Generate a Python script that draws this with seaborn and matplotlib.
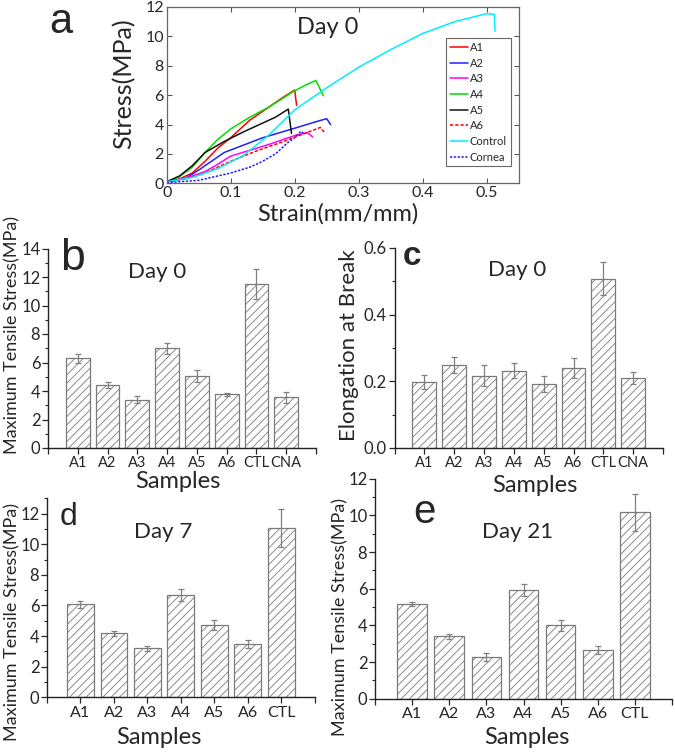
import numpy as np
import pandas as pd
import matplotlib
matplotlib.use('Agg')
import matplotlib.pyplot as plt
import seaborn as sns
from matplotlib.ticker import MultipleLocator

# ---------------- data ----------------
# panel a: stress-strain curves (Day 0)
strain_A1 = [0, 0.02, 0.04, 0.06, 0.08, 0.10, 0.13, 0.16, 0.18, 0.20, 0.203]
stress_A1 = [0.1, 0.3, 0.7, 1.5, 2.4, 3.1, 4.3, 5.2, 5.8, 6.35, 5.3]
strain_A2 = [0, 0.03, 0.05, 0.07, 0.09, 0.12, 0.15, 0.20, 0.23, 0.25, 0.256]
stress_A2 = [0.1, 0.35, 0.9, 1.5, 2.1, 2.6, 3.1, 3.75, 4.15, 4.4, 4.0]
strain_A3 = [0, 0.03, 0.06, 0.08, 0.10, 0.13, 0.16, 0.20, 0.22, 0.228]
stress_A3 = [0.1, 0.35, 0.8, 1.3, 1.85, 2.25, 2.65, 3.25, 3.45, 3.15]
strain_A4 = [0, 0.02, 0.04, 0.06, 0.08, 0.10, 0.13, 0.16, 0.20, 0.22, 0.233, 0.245]
stress_A4 = [0.1, 0.45, 1.1, 2.1, 3.0, 3.7, 4.5, 5.2, 6.3, 6.75, 7.0, 5.95]
strain_A5 = [0, 0.02, 0.04, 0.06, 0.09, 0.12, 0.15, 0.17, 0.19, 0.195]
stress_A5 = [0.1, 0.5, 1.2, 2.1, 2.85, 3.5, 4.1, 4.5, 5.05, 3.4]
strain_A6 = [0, 0.03, 0.06, 0.10, 0.14, 0.18, 0.21, 0.24, 0.246]
stress_A6 = [0.1, 0.3, 0.7, 1.5, 2.2, 2.8, 3.3, 3.8, 3.5]
strain_ctl = [0, 0.04, 0.08, 0.12, 0.16, 0.20, 0.25, 0.30, 0.35, 0.40, 0.45, 0.50, 0.512, 0.513]
stress_ctl = [0.1, 0.4, 1.0, 1.9, 3.3, 5.0, 6.5, 7.9, 9.1, 10.2, 11.0, 11.55, 11.5, 10.35]
strain_cor = [0, 0.05, 0.10, 0.13, 0.15, 0.17, 0.19, 0.20, 0.21, 0.215]
stress_cor = [0.05, 0.2, 0.7, 1.1, 1.5, 2.0, 2.8, 3.1, 3.55, 3.35]
curve_names = ['A1', 'A2', 'A3', 'A4', 'A5', 'A6', 'Control', 'Cornea']

# panel b: max tensile stress, day 0
cats8 = ['A1', 'A2', 'A3', 'A4', 'A5', 'A6', 'CTL', 'CNA']
stress_d0 = [6.3, 4.4, 3.4, 7.0, 5.05, 3.78, 11.48, 3.57]
stress_d0_err = [0.3, 0.2, 0.25, 0.4, 0.4, 0.1, 1.05, 0.38]
# panel c: elongation at break, day 0
elong_d0 = [0.198, 0.250, 0.217, 0.232, 0.192, 0.240, 0.508, 0.210]
elong_d0_err = [0.021, 0.024, 0.031, 0.022, 0.024, 0.031, 0.050, 0.018]
# panel d: day 7
cats7 = ['A1', 'A2', 'A3', 'A4', 'A5', 'A6', 'CTL']
stress_d7 = [6.09, 4.17, 3.19, 6.70, 4.71, 3.47, 11.06]
stress_d7_err = [0.23, 0.19, 0.17, 0.39, 0.34, 0.26, 1.24]
# panel e: day 21
stress_d21 = [5.18, 3.40, 2.27, 5.95, 4.00, 2.67, 10.16]
stress_d21_err = [0.11, 0.13, 0.20, 0.33, 0.29, 0.22, 0.99]

# ---------------- style ----------------
sns.set_theme(style='ticks')
plt.rcParams['font.family'] = ['Lato', 'DejaVu Sans']
plt.rcParams['hatch.linewidth'] = 0.6
plt.rcParams['axes.linewidth'] = 1.0

W, H = 675, 752
fig = plt.figure(figsize=(W / 100, H / 100), dpi=100)


def px(l, t, r, b):
    return [l / W, 1 - b / H, (r - l) / W, (b - t) / H]


def ftext(x, y, s, **kw):
    fig.text(x / W, 1 - y / H, s, **kw)


# ---------------- panel a ----------------
axa = fig.add_axes(px(166.7, 7, 519, 183.3))
curves = [
    (strain_A1, stress_A1, 'red', '-'),
    (strain_A2, stress_A2, '#2020ff', '-'),
    (strain_A3, stress_A3, '#ff00ff', '-'),
    (strain_A4, stress_A4, '#00dd00', '-'),
    (strain_A5, stress_A5, '#111111', '-'),
    (strain_A6, stress_A6, 'red', (0, (2.2, 1.2))),
    (strain_ctl, stress_ctl, '#00eeff', '-'),
    (strain_cor, stress_cor, '#2020ff', (0, (1.5, 1.0))),
]
for name, (xs, ys, col, ls) in zip(curve_names, curves):
    sns.lineplot(x=xs, y=ys, ax=axa, color=col, linestyle=ls, linewidth=1.1,
                 sort=False, estimator=None, label=name)
axa.set_xlim(0, 0.5505)
axa.set_ylim(0, 12)
axa.yaxis.set_major_locator(MultipleLocator(2))
axa.set_xticks([0, 0.1, 0.2, 0.3, 0.4, 0.5])
axa.set_xticklabels(['0', '0.1', '0.2', '0.3', '0.4', '0.5'])
axa.tick_params(direction='in', length=3.5, width=0.8, top=True, right=True,
                labelsize=11.5, color='#555555', pad=2)
for sp in axa.spines.values():
    sp.set_color('#666666')
    sp.set_linewidth(0.9)
axa.set_xlabel('')
axa.set_ylabel('')
leg = axa.legend(loc='upper right', bbox_to_anchor=(0.977, 0.824), borderaxespad=0,
                 frameon=True, fancybox=False, fontsize=8, handlelength=1.6,
                 handletextpad=0.2, labelspacing=0.42, borderpad=0.35)
leg.get_frame().set_edgecolor('#444444')
leg.get_frame().set_linewidth(0.8)
axa.text(0.252, 10.6, 'Day 0', fontsize=17, ha='center', va='center')
ftext(124, 84, 'Stress(MPa)', fontsize=18, rotation=90, ha='center', va='center')
ftext(338, 214, 'Strain(mm/mm)', fontsize=17, ha='center', va='center')


# ---------------- bar panels ----------------
def bar_panel(rect, cats, vals, errs, ylim, ymaj, ymin, xsize, yfmt=None):
    ax = fig.add_axes(rect)
    df = pd.DataFrame({'Samples': cats, 'val': vals})
    sns.barplot(data=df, x='Samples', y='val', ax=ax, color='white', saturation=1,
                edgecolor='#7a7a7a', linewidth=0.9, width=0.8, errorbar=None)
    for p in ax.patches:
        p.set_hatch('////')
    ax.errorbar(cats, vals, yerr=errs, fmt='none', ecolor='#808080',
                elinewidth=0.9, capsize=2.2, capthick=0.9)
    n = len(cats)
    ax.set_xlim(-1, n)
    ax.set_ylim(*ylim)
    ax.set_xticks(list(range(-1, n + 1)))
    ax.set_xticklabels([''] + cats + [''])
    ax.yaxis.set_major_locator(MultipleLocator(ymaj))
    ax.yaxis.set_minor_locator(MultipleLocator(ymin))
    if yfmt:
        ax.yaxis.set_major_formatter(yfmt)
    ax.tick_params(axis='y', which='major', direction='out', length=4, width=0.9,
                   labelsize=12, pad=1.5)
    ax.tick_params(axis='y', which='minor', direction='out', length=2.2, width=0.8)
    ax.tick_params(axis='x', which='major', direction='out', length=4, width=0.9,
                   labelsize=xsize, pad=2)
    sns.despine(ax=ax)
    for sp in ['left', 'bottom']:
        ax.spines[sp].set_color('#222222')
    ax.set_xlabel('')
    ax.set_ylabel('')
    return ax


axb = bar_panel(px(48, 248.5, 316, 448), cats8, stress_d0, stress_d0_err, (0, 14), 2, 1, 10.5)
axc = bar_panel(px(394.5, 248, 663, 448), cats8, elong_d0, elong_d0_err, (0, 0.6), 0.2, 0.1, 10.5,
                yfmt=matplotlib.ticker.FormatStrFormatter('%.1f'))
axd = bar_panel(px(47, 498.3, 314.6, 697.3), cats7, stress_d7, stress_d7_err, (0, 13), 2, 1, 11.5)
axd.set_yticks([0, 2, 4, 6, 8, 10, 12])
axe = bar_panel(px(375, 478.7, 672, 698.7), cats7, stress_d21, stress_d21_err, (0, 12), 2, 1, 11.5)

# titles / labels
ftext(157, 272, 'Day 0', fontsize=16, ha='center', va='center')
ftext(517, 270, 'Day 0', fontsize=16, ha='center', va='center')
ftext(163, 532, 'Day 7', fontsize=16, ha='center', va='center')
ftext(518, 532, 'Day 21', fontsize=16, ha='center', va='center')

for x, y in [(178, 482), (535, 485), (159, 737), (527, 737)]:
    ftext(x, y, 'Samples', fontsize=17, ha='center', va='center')

ftext(12, 335, 'Maximum Tensile Stress(MPa)', fontsize=13, rotation=90, ha='center', va='center')
ftext(349, 345, 'Elongation at Break', fontsize=16, rotation=90, ha='center', va='center')
ftext(12, 622, 'Maximum Tensile Stress(MPa)', fontsize=13, rotation=90, ha='center', va='center')
ftext(340, 617, 'Maximum Tensile Stress(MPa)', fontsize=13, rotation=90, ha='center', va='center')

# panel letters
lf = ['Liberation Sans', 'DejaVu Sans']
ftext(49, 33, 'a', fontsize=30, family=lf, ha='left', va='baseline')
ftext(60, 270, 'b', fontsize=32, family=lf, ha='left', va='baseline')
ftext(403, 265, 'c', fontsize=24, family=lf, weight='bold', ha='left', va='baseline')
ftext(60, 525, 'd', fontsize=23, family=lf, ha='left', va='baseline')
ftext(413, 523, 'e', fontsize=29, family=lf, ha='left', va='baseline')

fig.savefig('out.png', dpi=100, facecolor='white')
